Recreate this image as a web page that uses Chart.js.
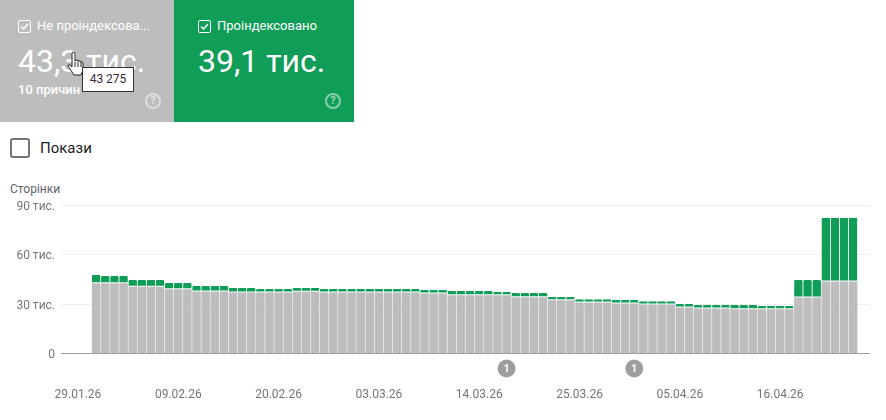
<!DOCTYPE html>
<html>
<head>
<meta charset="utf-8">
<script src="https://cdn.jsdelivr.net/npm/chart.js@4"></script>
<style>
html, body { margin: 0; padding: 0; background: #fff; }
body { width: 886px; height: 420px; position: relative; overflow: hidden; font-family: Roboto, sans-serif; }
.card { position: absolute; top: 0; height: 122px; color: #fff; }
#cardGrey { left: 0; width: 174px; background: #bdbdbd; }
#cardGreen { left: 174px; width: 180px; background: #0f9d58; }
.check { position: absolute; left: 18px; top: 20px; width: 11px; height: 11px; border: 1px solid #fff; border-radius: 2px; }
.check svg { position: absolute; left: 0; top: 0; }
.label { position: absolute; left: 37px; top: 17px; font-size: 13px; line-height: 18px; white-space: nowrap; }
.big { position: absolute; left: 18px; top: 40px; font-size: 32px; line-height: 42px; white-space: nowrap; }
.sub { position: absolute; left: 18px; top: 81px; font-size: 13px; font-weight: 500; line-height: 18px; }
.help { position: absolute; top: 93px; width: 12px; height: 12px; border: 2px solid rgba(255,255,255,.5); border-radius: 50%; color: rgba(255,255,255,.6); font-size: 11px; font-weight: 700; line-height: 12px; text-align: center; }
#tip { position: absolute; left: 82px; top: 67px; width: 50px; height: 23px; background: #fff; border: 1px solid #333; color: #3c2a3c; font-size: 12px; line-height: 23px; text-align: center; }
#hand { position: absolute; left: 66px; top: 51px; }
#showBox { position: absolute; left: 10px; top: 138px; width: 16px; height: 16px; border: 2px solid #757575; border-radius: 3px; }
#showLabel { position: absolute; left: 40px; top: 138px; font-size: 15px; line-height: 20px; color: #212121; }
#yTitle { position: absolute; left: 10px; top: 182px; font-size: 12px; line-height: 15px; color: #5f6368; }
#wrap { position: absolute; left: 0; top: 195px; width: 886px; height: 225px; }
</style>
</head>
<body>
<div class="card" id="cardGrey">
  <div class="check"><svg width="11" height="11" viewBox="0 0 11 11"><path d="M2 5.5 L4.5 8 L9 3" fill="none" stroke="#fff" stroke-width="1.4"/></svg></div>
  <div class="label">Не проіндексова...</div>
  <div class="big">43,3 тис.</div>
  <div class="sub">10 причин</div>
  <div class="help" style="left:145px">?</div>
</div>
<div class="card" id="cardGreen">
  <div class="check" style="left:24px"><svg width="11" height="11" viewBox="0 0 11 11"><path d="M2 5.5 L4.5 8 L9 3" fill="none" stroke="#fff" stroke-width="1.4"/></svg></div>
  <div class="label" style="left:43px">Проіндексовано</div>
  <div class="big" style="left:24px">39,1 тис.</div>
  <div class="help" style="left:151px">?</div>
</div>
<svg id="hand" width="20" height="26" viewBox="0 0 20 26"><path d="M6 2 Q8 0 9 2 L9 10 L11 9 L13 10 L15 10.500 L17 12 L17 19 L15 24 L8 24 L2 15 Q2 13 4 14 L6 16 Z" fill="#fff" stroke="#222" stroke-width="1"/><path d="M9 11 V16 M12 10.500 V16 M15 11 V16" stroke="#222" stroke-width="1" fill="none"/></svg>
<div id="tip">43 275</div>
<div id="showBox"></div>
<div id="showLabel">Покази</div>
<div id="yTitle">Сторінки</div>
<div id="wrap"><canvas id="pagesChart" width="886" height="225"></canvas></div>
<script>
// days counted from 29.01.26
const days = [2,3,4,5,6,7,8,9,10,11,12,13,14,15,16,17,18,19,20,21,22,23,24,25,26,27,28,29,30,31,32,33,34,35,36,37,38,39,40,41,42,43,44,45,46,47,48,49,50,51,52,53,54,55,56,57,58,59,60,61,62,63,64,65,66,67,68,69,70,71,72,73,74,75,76,77,78,79,80,81,82,83,84,85];
const notIndexed = [42.6,42.6,42.6,42.6,40.6,40.6,40.6,40.6,39,39,39,37.7,37.7,37.7,37.7,37.1,37.1,37.1,37.1,37.1,37.1,37.1,37.5,37.5,37.5,37.1,37.1,37.1,37.1,37.1,37.1,37.1,37.1,37.1,37.1,37.1,36.5,36.5,36.5,35.3,35.3,35.3,35.3,35.3,35.3,35.3,34.1,34.1,34.1,34.1,32.3,32.3,32.3,31,31,31,31,30.4,30.4,30.4,29.8,29.8,29.8,29.8,28,28,27.4,27.4,27.4,27.4,26.8,26.8,26.8,26.8,26.8,26.8,26.8,34,34,34,43.8,43.8,43.8,43.8];
const indexed = [5.1,4.4,4.4,4.4,4,4,4,4,3.8,3.8,3.8,3.3,3.3,3.3,3.3,2.7,2.7,2.7,2,2,2,2,2.3,2.3,2.3,2,2,2,2,2,2,2,2,2,2,2,2,2,2,2.6,2.6,2.6,2.6,2.6,2,2,2.6,2.6,2.6,2.6,2,2,2,2,2,2,2,2.1,2.1,2.1,2,2,2,2,2,2,2,2,2,2,2.6,2.6,2.6,2,2,2,2,10.6,10.6,10.6,38.6,38.6,38.6,38.6];
const yTicks = [0,30,60,90];
const yTickLabels = ['0','30 тис.','60 тис.','90 тис.'];
const xTicks = [0,11,22,33,44,55,66,77];
const xTickLabels = ['29.01.26','09.02.26','20.02.26','03.03.26','14.03.26','25.03.26','05.04.26','16.04.26'];
const annotationDays = [47,61];

const annotationMarkers = {
    id: 'annotationMarkers',
    afterDraw(chart) {
        const { ctx, scales } = chart;
        annotationDays.forEach(day => {
            const x = scales.x.getPixelForValue(day);
            const y = scales.y.bottom + 15;
            ctx.save();
            ctx.beginPath();
            ctx.arc(x, y, 9, 0, Math.PI * 2);
            ctx.fillStyle = '#9e9e9e';
            ctx.fill();
            ctx.fillStyle = '#fff';
            ctx.font = '700 11px Roboto';
            ctx.textAlign = 'center';
            ctx.textBaseline = 'middle';
            ctx.fillText('1', x, y + 0.5);
            ctx.restore();
        });
    }
};

new Chart(document.getElementById('pagesChart'), {
    type: 'bar',
    data: {
        labels: days,
        datasets: [
            {
                label: 'Не проіндексовано',
                data: notIndexed,
                backgroundColor: '#bdbdbd',
                barPercentage: 0.94,
                categoryPercentage: 1,
            },
            {
                label: 'Проіндексовано',
                data: indexed,
                backgroundColor: '#0f9d58',
                borderColor: '#fff',
                borderWidth: { bottom: 1 },
                borderSkipped: false,
                borderRadius: { topLeft: 1, topRight: 1 },
                barPercentage: 0.94,
                categoryPercentage: 1,
            }
        ]
    },
    plugins: [annotationMarkers],
    options: {
        responsive: false,
        animation: false,
        layout: { padding: { top: 10.3, right: 16, left: 0, bottom: 0 } },
        plugins: { legend: { display: false }, tooltip: { enabled: false } },
        scales: {
            x: {
                type: 'linear',
                offset: false,
                stacked: true,
                min: -1.86,
                max: 86.85,
                afterBuildTicks: axis => { axis.ticks = xTicks.map(value => ({ value })); },
                ticks: {
                    autoSkip: false,
                    maxRotation: 0,
                    padding: 26,
                    color: '#757575',
                    font: { family: 'Roboto', size: 12 },
                    callback: value => xTickLabels[xTicks.indexOf(value)],
                },
                grid: { display: false, offset: false },
                border: { display: false },
                afterFit: axis => { axis.height = 66.5; },
            },
            y: {
                stacked: true,
                min: 0,
                max: 90,
                afterBuildTicks: axis => { axis.ticks = yTicks.map(value => ({ value })); },
                ticks: {
                    padding: 6,
                    labelOffset: 1.5,
                    color: '#757575',
                    font: { family: 'Roboto', size: 12 },
                    callback: value => yTickLabels[yTicks.indexOf(value)],
                },
                grid: {
                    drawTicks: false,
                    color: ctx => ctx.tick.value === 0 ? '#9e9e9e' : '#eeeeee',
                },
                border: { display: false },
                afterFit: axis => { axis.width = 61; axis.paddingTop = 0; axis.paddingBottom = 0; },
            }
        }
    }
});
</script>
</body>
</html>
